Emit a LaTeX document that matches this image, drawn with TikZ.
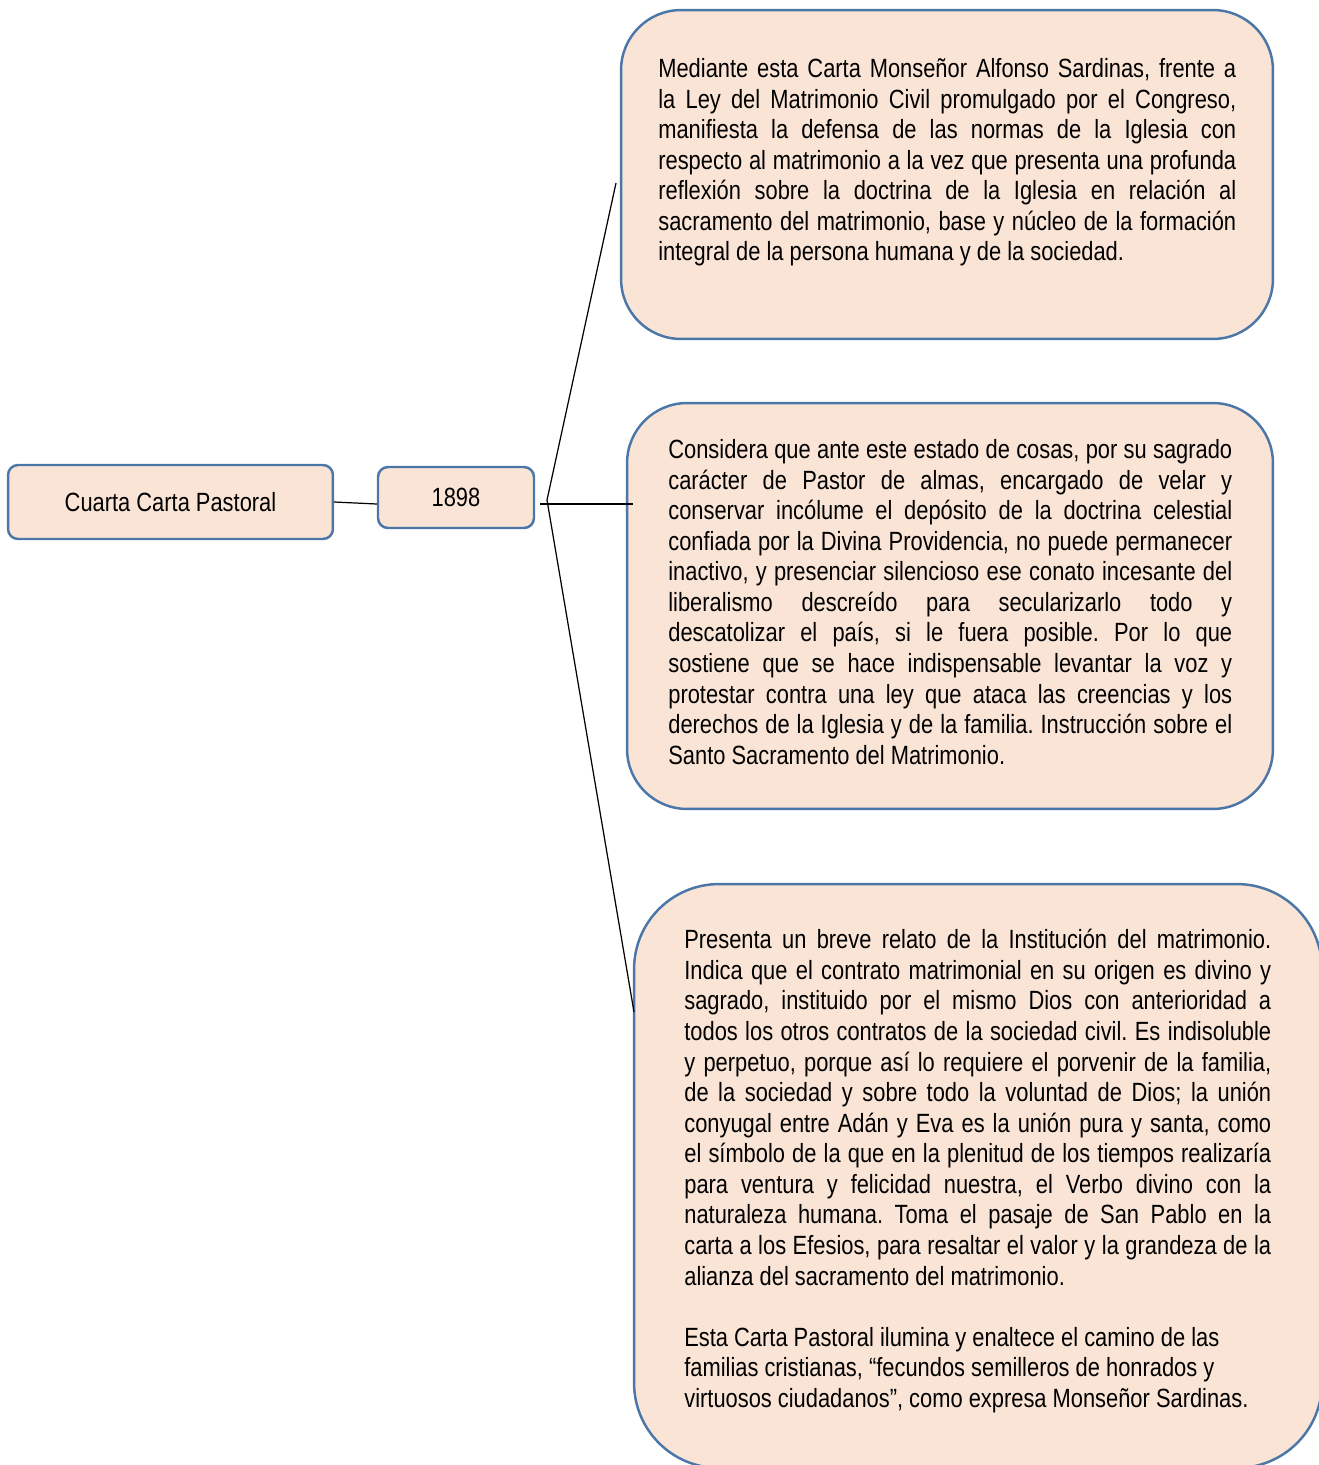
\documentclass[tikz,border=0pt]{standalone}
\usepackage{fontspec}
\setmainfont{Liberation Sans}[FakeStretch=0.83]
\frenchspacing
\usepackage{xcolor}
\definecolor{cartaFill}{HTML}{FAE4D6}
\definecolor{cartaEdge}{HTML}{4A76A8}
\usepackage{tikz}
\usetikzlibrary{positioning, calc}

\begin{document}
\begin{tikzpicture}[
  x=0.02cm, y=-0.02cm,
  box/.style={draw=cartaEdge, fill=cartaFill, line width=1.4pt, rounded corners=#1,
    inner sep=0pt},
  box/.default=0.2cm,
  body/.style={anchor=north west, inner sep=0pt, align=justify,
    font=\fontsize{15pt}{17.4pt}\selectfont},
  link/.style={draw=black, line width=0.7pt}
]
  \useasboundingbox (0,0) rectangle (1319,1465);

  % Nodes
  \node[box, minimum width=6.5cm, minimum height=1.48cm,
    font=\fontsize{15pt}{17.4pt}\selectfont] (cuarta) at (170.5,502) {Cuarta Carta Pastoral};
  \node[box, minimum width=3.12cm, minimum height=1.22cm,
    font=\fontsize{15pt}{17.4pt}\selectfont] (year) at (456,497.5) {1898};
  \node[box=1.2cm, minimum width=13.04cm, minimum height=6.58cm] (box1) at (947,174.5) {};
  \node[box=1.2cm, minimum width=12.92cm, minimum height=8.12cm] (box2) at (950,606) {};
  \node[box=1.7cm, minimum width=13.76cm, minimum height=11.68cm] (box3) at (978,1176) {};

  % Texts
  \node[body, text width=11.56cm] (txt1) at (658,58) {Mediante esta Carta Monseñor Alfonso Sardinas, frente a\linebreak
    la Ley del Matrimonio Civil promulgado por el Congreso,\linebreak
    manifiesta la defensa de las normas de la Iglesia con\linebreak
    respecto al matrimonio a la vez que presenta una profunda\linebreak
    reflexión sobre la doctrina de la Iglesia en relación al\linebreak
    sacramento del matrimonio, base y núcleo de la formación\linebreak
    integral de la persona humana y de la sociedad.};
  \node[body, text width=11.28cm] (txt2) at (668,439) {Considera que ante este estado de cosas, por su sagrado\linebreak
    carácter de Pastor de almas, encargado de velar y\linebreak
    conservar incólume el depósito de la doctrina celestial\linebreak
    confiada por la Divina Providencia, no puede permanecer\linebreak
    inactivo, y presenciar silencioso ese conato incesante del\linebreak
    liberalismo descreído para secularizarlo todo y\linebreak
    descatolizar el país, si le fuera posible. Por lo que\linebreak
    sostiene que se hace indispensable levantar la voz y\linebreak
    protestar contra una ley que ataca las creencias y los\linebreak
    derechos de la Iglesia y de la familia. Instrucción sobre el\linebreak
    Santo Sacramento del Matrimonio.};
  \node[body, text width=11.74cm] (txt3) at (684,929) {Presenta un breve relato de la Institución del matrimonio.\linebreak
    Indica que el contrato matrimonial en su origen es divino y\linebreak
    sagrado, instituido por el mismo Dios con anterioridad a\linebreak
    todos los otros contratos de la sociedad civil. Es indisoluble\linebreak
    y perpetuo, porque así lo requiere el porvenir de la familia,\linebreak
    de la sociedad y sobre todo la voluntad de Dios; la unión\linebreak
    conyugal entre Adán y Eva es la unión pura y santa, como\linebreak
    el símbolo de la que en la plenitud de los tiempos realizaría\linebreak
    para ventura y felicidad nuestra, el Verbo divino con la\linebreak
    naturaleza humana. Toma el pasaje de San Pablo en la\linebreak
    carta a los Efesios, para resaltar el valor y la grandeza de la\linebreak
    alianza del sacramento del matrimonio.\par\vspace{17.4pt}
    Esta Carta Pastoral ilumina y enaltece el camino de las\newline
    familias cristianas, “fecundos semilleros de honrados y\newline
    virtuosos ciudadanos”, como expresa Monseñor Sardinas.};

  % Connectors
  \coordinate (hub) at (547,500);
  \coordinate (hubL) at (540,504);
  \coordinate (end1) at (616,183);
  \coordinate (end2) at (633,504);
  \coordinate (end3) at (634,1012);
  \draw[link] (cuarta.east) -- ($(year.west)+(0,6.5)$);
  \draw[link] (hubL) -- (end2);
  \draw[link] (hub) -- (end1);
  \draw[link] (hub) -- (end3);
\end{tikzpicture}
\end{document}
